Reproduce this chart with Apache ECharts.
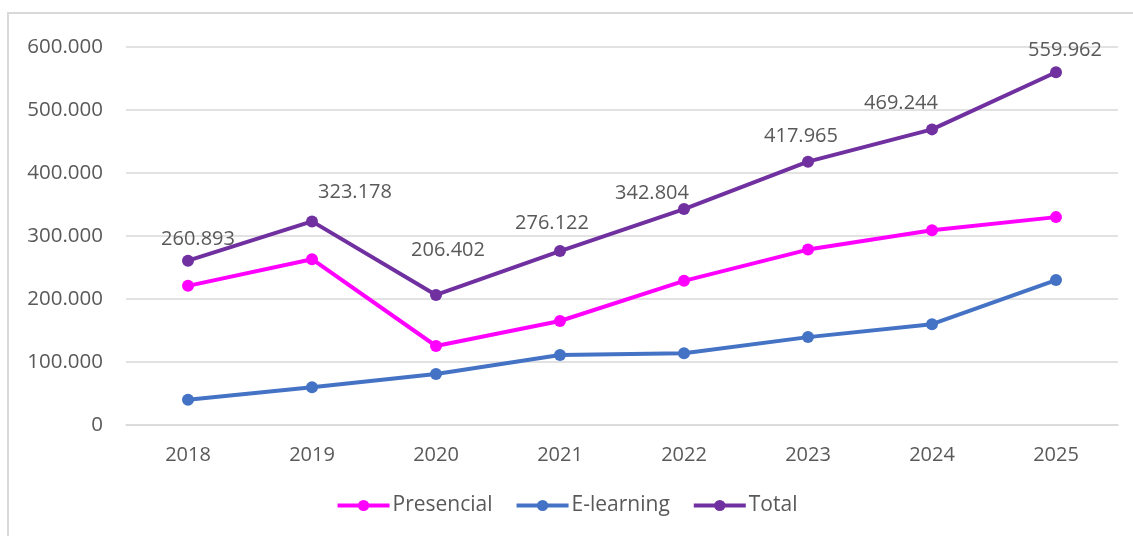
<!DOCTYPE html>
<html>
    <head>
        <meta charset="UTF-8" />
        <script src="https://cdn.jsdelivr.net/npm/echarts@6/dist/echarts.min.js"></script>
        <style>
            html, body { margin: 0; padding: 0; background: #fff; }
        </style>
    </head>
    <body>
        <div id="container" style="width: 1133px; height: 536px;"></div>
        <script>
            // datos
            var years = ['2018', '2019', '2020', '2021', '2022', '2023', '2024', '2025'];
            var presencial = [220893, 263178, 125402, 165122, 228804, 278465, 309244, 329962];
            var elearning = [40000, 60000, 81000, 111000, 114000, 139500, 160000, 230000];
            var total = [260893, 323178, 206402, 276122, 342804, 417965, 469244, 559962];
            var yTicks = [0, 100000, 200000, 300000, 400000, 500000, 600000];

            // posición manual de etiquetas (dx, dy respecto al punto)
            var labelShift = [[10, -21], [43, -29], [12, -45], [-8, -28], [-32, -16], [-7, -25], [-31, -26], [9, -22]];

            var textColor = '#595959';
            var fontFamily = '"Open Sans", sans-serif';

            function fmt(v) {
                if (v === 0) return '0';
                return String(v).replace(/\B(?=(\d{3})+(?!\d))/g, '.');
            }

            function lineSeries(name, data, color) {
                return {
                    name: name,
                    type: 'line',
                    data: data,
                    symbol: 'circle',
                    symbolSize: 12,
                    lineStyle: { width: 4, color: color },
                    itemStyle: { color: color },
                    emphasis: { disabled: true },
                    animation: false
                };
            }

            var totalSeries = lineSeries('Total', total.map(function (v, i) {
                return {
                    value: v,
                    label: { show: true, position: 'inside', offset: labelShift[i] }
                };
            }), '#7030A0');
            totalSeries.label = {
                show: true,
                color: textColor,
                fontFamily: fontFamily,
                fontSize: 20,
                formatter: function (p) { return fmt(p.value); }
            };

            var chart = echarts.init(document.getElementById('container'));
            chart.setOption({
                backgroundColor: '#fff',
                grid: { left: 126, right: 15, top: 47, bottom: 111, containLabel: false },
                graphic: [{
                    type: 'rect',
                    shape: { x: 8, y: 13, width: 1130, height: 540 },
                    style: { fill: 'none', stroke: '#d9d9d9', lineWidth: 2 },
                    silent: true,
                    z: -1
                }],
                legend: {
                    bottom: 15,
                    left: 'center',
                    itemWidth: 52,
                    itemHeight: 14,
                    itemGap: 22,
                    lineStyle: { width: 4 },
                    textStyle: { color: textColor, fontFamily: fontFamily, fontSize: 21, padding: [0, 0, 0, -2] },
                    data: ['Presencial', 'E-learning', 'Total']
                },
                xAxis: {
                    type: 'category',
                    data: years,
                    boundaryGap: true,
                    axisLine: { lineStyle: { color: '#d9d9d9', width: 1.5 } },
                    axisTick: { show: false },
                    axisLabel: { color: textColor, fontFamily: fontFamily, fontSize: 20, margin: 20 }
                },
                yAxis: {
                    type: 'value',
                    min: yTicks[0],
                    max: yTicks[yTicks.length - 1],
                    interval: 100000,
                    axisLine: { show: false },
                    axisTick: { show: false },
                    splitLine: { lineStyle: { color: '#d9d9d9', width: 1.5 } },
                    axisLabel: { color: textColor, fontFamily: fontFamily, fontSize: 20.5, margin: 23, formatter: fmt }
                },
                series: [
                    lineSeries('Presencial', presencial, '#FF00FF'),
                    lineSeries('E-learning', elearning, '#4472C4'),
                    totalSeries
                ]
            });
        </script>
    </body>
</html>
